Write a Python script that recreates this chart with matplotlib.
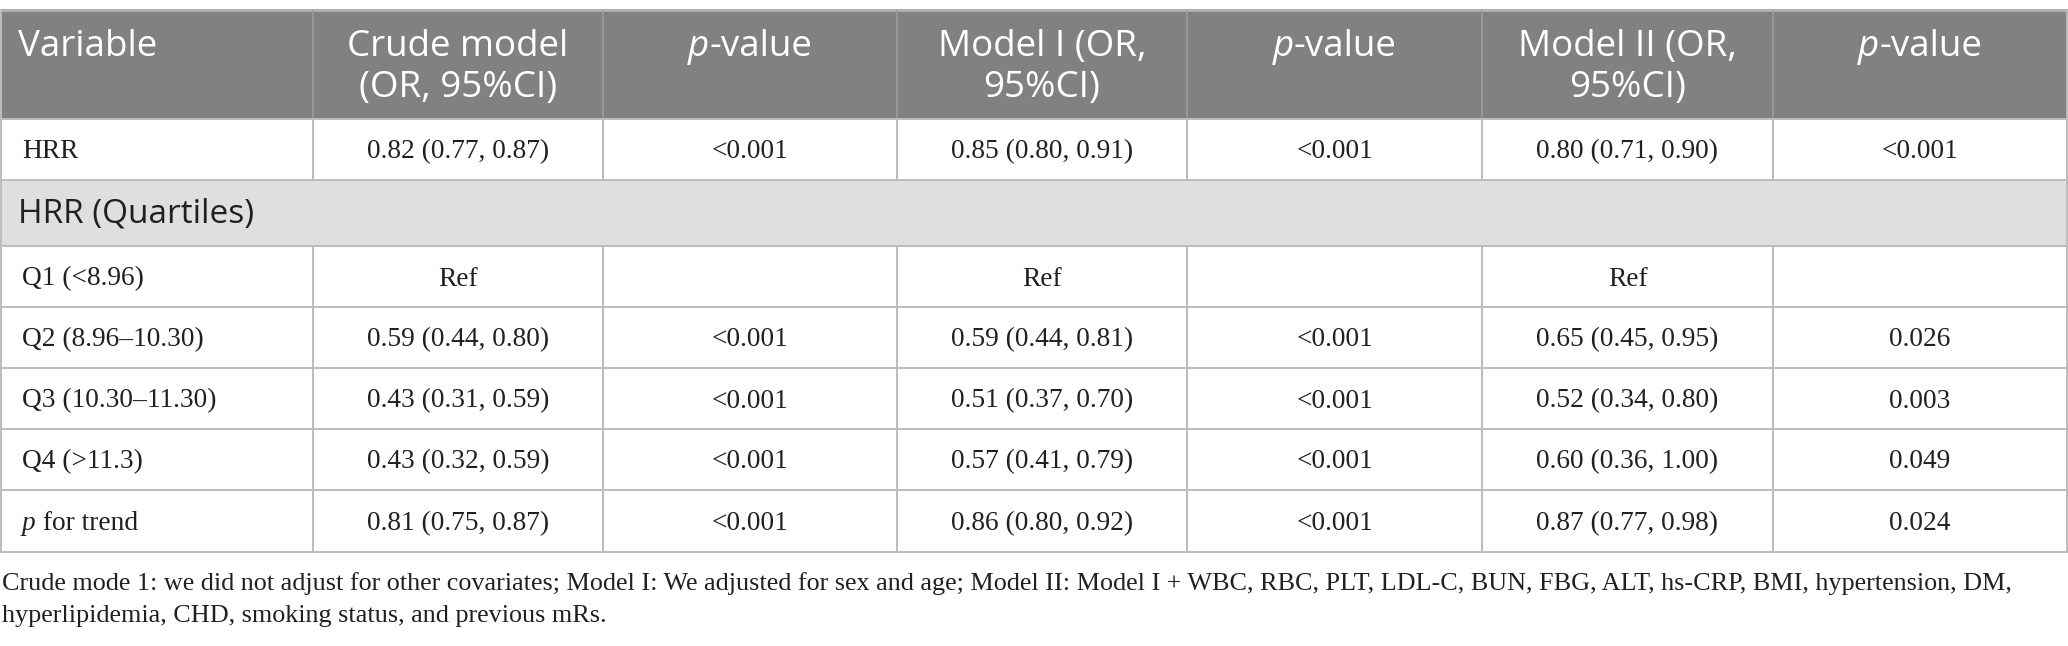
import matplotlib
matplotlib.use("Agg")
import matplotlib.pyplot as plt
from matplotlib.patches import Rectangle

# table content
headers = ["Variable", "Crude model\n(OR, 95%CI)", "*p*-value", "Model I (OR,\n95%CI)",
           "*p*-value", "Model II (OR,\n95%CI)", "*p*-value"]
group_label = "HRR (Quartiles)"
row_labels = ["HRR", "Q1 (<8.96)", "Q2 (8.96\u201310.30)", "Q3 (10.30\u201311.30)",
              "Q4 (>11.3)", "*p* for trend"]
crude_or = ["0.82 (0.77, 0.87)", "Ref", "0.59 (0.44, 0.80)", "0.43 (0.31, 0.59)",
            "0.43 (0.32, 0.59)", "0.81 (0.75, 0.87)"]
crude_p = ["<0.001", "", "<0.001", "<0.001", "<0.001", "<0.001"]
m1_or = ["0.85 (0.80, 0.91)", "Ref", "0.59 (0.44, 0.81)", "0.51 (0.37, 0.70)",
         "0.57 (0.41, 0.79)", "0.86 (0.80, 0.92)"]
m1_p = ["<0.001", "", "<0.001", "<0.001", "<0.001", "<0.001"]
m2_or = ["0.80 (0.71, 0.90)", "Ref", "0.65 (0.45, 0.95)", "0.52 (0.34, 0.80)",
         "0.60 (0.36, 1.00)", "0.87 (0.77, 0.98)"]
m2_p = ["<0.001", "", "0.026", "0.003", "0.049", "0.024"]
caption = ["Crude mode 1: we did not adjust for other covariates; Model I: We adjusted for sex and age; "
           "Model II: Model I + WBC, RBC, PLT, LDL-C, BUN, FBG, ALT, hs-CRP, BMI, hypertension, DM,",
           "hyperlipidemia, CHD, smoking status, and previous mRs."]

# layout (pixels)
W, H = 2068, 646
col_edges = [0, 313, 603, 897, 1187, 1482, 1773, 2067]
top = 11
header_bottom = 119
body_edges = [119, 180, 246, 307, 368, 429, 490, 552]  # HRR, group, Q1..Q4, trend
header_bg = "#808180"
group_bg = "#e0dfe0"
grid = "#bcbcbc"
ink = "#231f20"
sans = "Open Sans"
serif = "Liberation Serif"

fig = plt.figure(figsize=(W / 100, H / 100), dpi=100)
ax = fig.add_axes([0, 0, 1, 1])
ax.set_xlim(0, W)
ax.set_ylim(H, 0)
ax.axis("off")
renderer = fig.canvas.get_renderer()


def rich_text(x, y, s, ha, family, size, color, va="baseline"):
    # parts wrapped in *...* are drawn in italic
    parts = s.split("*")
    arts = []
    cur = x
    for i, p in enumerate(parts):
        if not p:
            continue
        t = ax.text(cur, y, p, ha="left", va=va, family=family, fontsize=size,
                    color=color, style="italic" if i % 2 else "normal")
        w = t.get_window_extent(renderer).width
        arts.append(t)
        cur += w
    total = cur - x
    shift = {"left": 0, "center": -total / 2, "right": -total}[ha]
    for t in arts:
        px, py = t.get_position()
        t.set_position((px + shift, py))


# header
ax.add_patch(Rectangle((0, top), W, header_bottom - top, color=header_bg, lw=0))
ax.plot([0, W], [top - 1, top - 1], color="#b0b0b0", lw=2.2, solid_capstyle="butt")
for xe in col_edges[1:-1]:
    ax.plot([xe, xe], [top, header_bottom], color="#9a9a9a", lw=1.3)
for j, h in enumerate(headers):
    lines = h.split("\n")
    for k, ln in enumerate(lines):
        yb = 56 + k * 41
        if j == 0:
            rich_text(18, yb, ln, "left", sans, 26.5, "white")
        else:
            rich_text((col_edges[j] + col_edges[j + 1]) / 2, yb, ln, "center", sans, 26.5, "white")

# group row background
ax.add_patch(Rectangle((0, body_edges[1]), W, body_edges[2] - body_edges[1], color=group_bg, lw=0))

# body rows
columns = [crude_or, crude_p, m1_or, m1_p, m2_or, m2_p]
row_slots = [0, 2, 3, 4, 5, 6]
for i, slot in enumerate(row_slots):
    y0, y1 = body_edges[slot], body_edges[slot + 1]
    yb = (y0 + y1) / 2 + 9
    rich_text(22, yb, row_labels[i], "left", serif, 19.7, ink)
    for j, col in enumerate(columns):
        xc = (col_edges[j + 1] + col_edges[j + 2]) / 2
        if col[i]:
            rich_text(xc, yb, col[i], "center", serif, 19.7, ink)
    for xe in col_edges[1:-1]:
        ax.plot([xe, xe], [y0, y1], color=grid, lw=1.4)

y0, y1 = body_edges[1], body_edges[2]
rich_text(18, (y0 + y1) / 2 + 10, group_label, "left", sans, 24, ink)

# horizontal rules and outer border
for ye in body_edges:
    ax.plot([0, W], [ye, ye], color=grid, lw=1.4)
ax.plot([1, 1], [top, body_edges[-1]], color=grid, lw=1.4)
ax.plot([W - 1, W - 1], [top, body_edges[-1]], color=grid, lw=1.4)

# footnote
for k, ln in enumerate(caption):
    ax.text(2, 590 + k * 32, ln, ha="left", va="baseline", family=serif,
            fontsize=18.8, color=ink)

fig.savefig("out.png", dpi=100)
